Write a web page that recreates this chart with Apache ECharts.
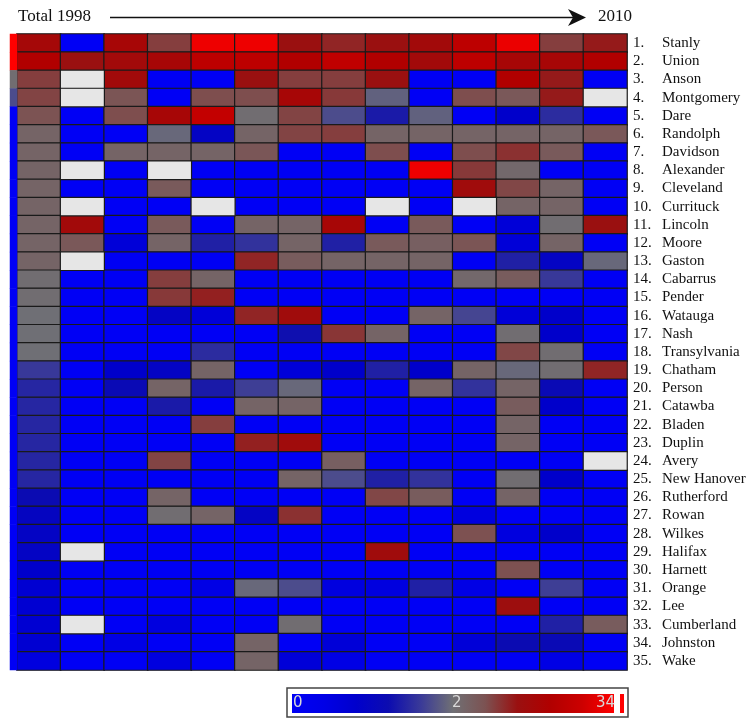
<!DOCTYPE html>
<html>
<head>
<meta charset="utf-8">
<title>County heatmap 1998-2010</title>
<script src="https://cdn.jsdelivr.net/npm/echarts@6/dist/echarts.min.js"></script>
<style>
  html, body { margin: 0; padding: 0; background: #ffffff; }
  #chart { width: 749px; height: 720px; }
</style>
</head>
<body>
<div id="chart"></div>
<script>
// Counties in rank order (top to bottom)
const counties = ['Stanly', 'Union', 'Anson', 'Montgomery', 'Dare', 'Randolph', 'Davidson',
  'Alexander', 'Cleveland', 'Currituck', 'Lincoln', 'Moore', 'Gaston', 'Cabarrus', 'Pender',
  'Watauga', 'Nash', 'Transylvania', 'Chatham', 'Person', 'Catawba', 'Bladen', 'Duplin',
  'Avery', 'New Hanover', 'Rutherford', 'Rowan', 'Wilkes', 'Halifax', 'Harnett', 'Orange',
  'Lee', 'Cumberland', 'Johnston', 'Wake'];

// Columns: overall total, then each year 1998 .. 2010
const columns = ['Total', '1998', '1999', '2000', '2001', '2002', '2003', '2004',
  '2005', '2006', '2007', '2008', '2009', '2010'];

// Rank-group strip drawn left of the grid
const sideStrip = [34, 34, 2, 1.7, 0, 0, 0, 0, 0, 0, 0, 0, 0, 0, 0, 0, 0, 0, 0, 0,
  0, 0, 0, 0, 0, 0, 0, 0, 0, 0, 0, 0, 0, 0, 0];

// Values per county (row) for each column; null = no data
const N = null;
const cellValues = [
  [8, 0, 8.5, 4, 28, 28, 6, 5, 6, 7.5, 14, 27, 4, 5.5],
  [11, 6, 7.5, 8.5, 14, 14, 11, 15, 11, 7.5, 14, 8.5, 8.5, 11],
  [4, N, 7.5, 0, 0, 6, 4, 4, 6, 0, 0, 11, 5.5, 0],
  [3.8, N, 3.2, 0, 3.5, 3.5, 8.5, 4.2, 1.85, 0, 3.5, 3, 5.5, N],
  [3.3, 0, 3.5, 8.5, 16, 2, 3.8, 1.7, 1.3, 1.85, 0, 0.8, 1.45, 0],
  [2.4, 0, 0, 1.9, 0.9, 2.4, 3.8, 4, 2.4, 2.4, 2.4, 2.4, 2.4, 3],
  [2.4, 0, 2.4, 2.4, 2.4, 3.1, 0, 0, 3.5, 0, 3.5, 4.5, 2.9, 0],
  [2.4, N, 0, N, 0, 0, 0, 0, 0, 28, 4.2, 2.2, 0, 0],
  [2.4, 0, 0, 2.9, 0, 0, 0, 0, 0, 0, 7, 3.7, 2.4, 0],
  [2.4, N, 0, 0, N, 0, 0, 0, N, 0, N, 2.4, 2.4, 0],
  [2.4, 7.5, 0, 2.9, 0, 2.4, 2.4, 8.5, 0, 2.9, 0, 0.6, 2, 6],
  [2.4, 3, 0.6, 2.4, 1.35, 1.5, 2.4, 1.35, 2.9, 2.6, 3.2, 0.6, 2.4, 0],
  [2.4, N, 0, 0, 0, 5, 2.8, 2.4, 2.4, 2.4, 0, 1.35, 0.9, 1.9],
  [2, 0, 0, 4, 2.4, 0, 0, 0, 0, 0, 2.2, 2.8, 1.55, 0],
  [2, 0, 0, 4.2, 5.2, 0, 0, 0, 0, 0, 0, 0, 0, 0],
  [1.95, 0, 0, 0.9, 0.6, 5, 7, 0, 0, 2.4, 1.65, 0.6, 0.8, 0],
  [1.95, 0, 0, 0, 0, 0, 1.2, 4.3, 2.4, 0, 0, 2, 0.8, 0],
  [1.95, 0, 0, 0, 1.45, 0, 0, 0, 0, 0, 0, 3.7, 2, 0],
  [1.55, 0, 0.8, 0.9, 2.4, 0, 0.6, 0.8, 1.35, 0.8, 2.4, 1.9, 2, 5],
  [1.4, 0, 1.1, 2.4, 1.3, 1.6, 1.9, 0, 0, 2.4, 1.5, 2.4, 1.1, 0],
  [1.4, 0, 0, 1.3, 0, 2.4, 2.4, 0, 0, 0, 0, 2.8, 0.8, 0],
  [1.4, 0, 0, 0, 4, 0, 0, 0, 0, 0, 0, 2.4, 0, 0],
  [1.4, 0, 0, 0, 0, 5.2, 7, 0, 0, 0, 0, 2.4, 0, 0],
  [1.4, 0, 0, 3.8, 0, 0, 0, 2.6, 0, 0, 0, 0, 0, N],
  [1.4, 0, 0, 0, 0, 0, 2.4, 1.7, 1.35, 1.5, 0, 2, 0.8, 0],
  [1.15, 0, 0, 2.4, 0, 0, 0, 0, 3.7, 2.8, 0, 2.4, 0, 0],
  [0.95, 0, 0, 2, 2.4, 0.9, 4.5, 0, 0, 0, 0.5, 0, 0, 0],
  [0.9, 0, 0, 0, 0, 0, 0, 0, 0, 0, 3.4, 0.5, 0.8, 0],
  [0.9, N, 0, 0, 0, 0, 0, 0, 7, 0, 0, 0, 0, 0],
  [0.8, 0, 0, 0, 0, 0, 0, 0, 0, 0, 0, 3.4, 0, 0],
  [0.7, 0, 0, 0, 0.4, 1.9, 1.7, 0.5, 0.5, 1.35, 0.4, 0, 1.6, 0],
  [0.7, 0, 0, 0, 0, 0, 0, 0, 0, 0, 0, 6.5, 0, 0],
  [0.7, N, 0, 0.5, 0, 0, 2, 0, 0, 0, 0, 0, 1.35, 2.8],
  [0.7, 0, 0.4, 0, 0, 2.4, 0, 0.6, 0, 0, 0.6, 1.15, 1.1, 0],
  [0.5, 0, 0, 0.5, 0, 2.4, 0.6, 0.4, 0, 0, 0, 0, 0.4, 0]
];

// Colour-scale tick labels
const scaleTicks = ['0', '2', '34'];

// Colour ramp: blue (0) -> grey (2) -> red (34)
const rampColors = ['#0000f5', '#0000e6', '#0000cc', '#0c0cb0', '#3a3a98', '#707074',
  '#7c5252', '#9a1010', '#b00000', '#cc0000', '#ff0000'];
const missingColor = '#e6e6e6';

// Piecewise scale: linear from 0 to 2 on the first half, logarithmic from 2 to 34
const MID = 0.51;
function scalePos(v) {
  if (v <= 2) return MID * v / 2;
  return MID + (1 - MID) * Math.log(v / 2) / Math.log(34 / 2);
}

const gridData = [];
const missingData = [];
cellValues.forEach(function (row, r) {
  row.forEach(function (v, c) {
    if (v === null) missingData.push([c, r, 1]);   // 1 = "no data" flag
    else gridData.push([c, r, v, scalePos(v)]);
  });
});
const stripData = sideStrip.map(function (v, r) { return [0, r, v, scalePos(v)]; });

const serif = '"Liberation Serif", "Times New Roman", serif';

const chart = echarts.init(document.getElementById('chart'), null, { renderer: 'canvas' });

const gradStops = rampColors.map(function (c, i) {
  return { offset: i / (rampColors.length - 1), color: c };
});

chart.setOption({
  animation: false,
  backgroundColor: '#ffffff',
  grid: [
    { left: 17, top: 34, width: 610, height: 636, containLabel: false },
    { left: 10, top: 34, width: 7, height: 636, containLabel: false }
  ],
  xAxis: [
    { type: 'category', gridIndex: 0, data: columns, show: false },
    { type: 'category', gridIndex: 1, data: ['rank'], show: false }
  ],
  yAxis: [
    {
      type: 'category', gridIndex: 0, data: counties, inverse: true, position: 'right',
      axisLine: { show: false }, axisTick: { show: false }, splitLine: { show: false },
      axisLabel: {
        margin: 6,
        align: 'left',
        formatter: function (value, index) {
          return '{n|' + (index + 1) + '.}{c|' + value + '}';
        },
        rich: {
          n: { width: 29, fontFamily: serif, fontSize: 15, color: '#111111' },
          c: { fontFamily: serif, fontSize: 15, color: '#111111' }
        }
      }
    },
    { type: 'category', gridIndex: 1, data: counties, inverse: true, show: false }
  ],
  visualMap: [
    {
      type: 'continuous',
      show: false,
      dimension: 3,
      min: 0,
      max: 1,
      seriesIndex: [0, 1],
      inRange: { color: rampColors }
    },
    {
      type: 'piecewise',
      show: false,
      dimension: 2,
      seriesIndex: [2],
      pieces: [{ value: 1, color: missingColor }]
    }
  ],
  series: [
    {
      type: 'heatmap',
      xAxisIndex: 0, yAxisIndex: 0,
      data: gridData,
      itemStyle: { borderColor: '#1a1a1a', borderWidth: 1.2 },
      emphasis: { disabled: true }
    },
    {
      type: 'heatmap',
      xAxisIndex: 1, yAxisIndex: 1,
      data: stripData,
      itemStyle: { borderWidth: 0 },
      emphasis: { disabled: true }
    },
    {
      type: 'heatmap',
      xAxisIndex: 0, yAxisIndex: 0,
      data: missingData,
      itemStyle: { color: missingColor, borderColor: '#1a1a1a', borderWidth: 1.2 },
      emphasis: { disabled: true }
    }
  ],
  graphic: [
    // header: Total 1998 ----> 2010
    {
      type: 'text', left: 18, top: 8,
      style: { text: 'Total 1998', font: '17px ' + serif, fill: '#111111' }
    },
    {
      type: 'line',
      shape: { x1: 110, y1: 17.5, x2: 580, y2: 17.5 },
      style: { stroke: '#111111', lineWidth: 1.3 }
    },
    {
      type: 'polygon',
      shape: { points: [[568, 9], [586, 17.5], [568, 26], [573, 17.5]] },
      style: { fill: '#111111' }
    },
    {
      type: 'text', left: 598, top: 8,
      style: { text: '2010', font: '17px ' + serif, fill: '#111111' }
    },
    // colour scale box
    {
      type: 'rect',
      shape: { x: 287, y: 688, width: 341, height: 29 },
      style: { fill: '#ffffff', stroke: '#444444', lineWidth: 1.5 }
    },
    {
      type: 'rect',
      shape: { x: 292, y: 694, width: 322, height: 19 },
      style: {
        fill: new echarts.graphic.LinearGradient(0, 0, 1, 0, gradStops)
      }
    },
    {
      type: 'rect',
      shape: { x: 620, y: 694, width: 4, height: 19 },
      style: { fill: '#ff0000' }
    },
    {
      type: 'text', x: 293, y: 703.5,
      style: { text: scaleTicks[0], font: '15px "DejaVu Sans", sans-serif', fill: '#d8d8d8', verticalAlign: 'middle' }
    },
    {
      type: 'text', x: 452, y: 703.5,
      style: { text: scaleTicks[1], font: '15px "DejaVu Sans", sans-serif', fill: '#d8d8d8', verticalAlign: 'middle' }
    },
    {
      type: 'text', x: 596, y: 703.5,
      style: { text: scaleTicks[2], font: '15px "DejaVu Sans", sans-serif', fill: '#d8d8d8', verticalAlign: 'middle' }
    }
  ]
});
</script>
</body>
</html>
